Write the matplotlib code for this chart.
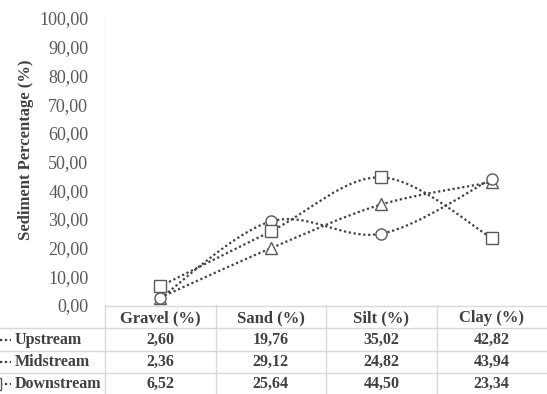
import numpy as np
import matplotlib.pyplot as plt
import matplotlib.transforms as mtransforms
from matplotlib.path import Path
from matplotlib.patches import PathPatch
from matplotlib.lines import Line2D

plt.rcParams['font.family'] = ['Liberation Serif', 'DejaVu Serif']

# Data
categories = ['Gravel (%)', 'Sand (%)', 'Silt (%)', 'Clay (%)']
series_names = ['Upstream', 'Midstream', 'Downstream']
upstream = [2.60, 19.76, 35.02, 42.82]
midstream = [2.36, 29.12, 24.82, 43.94]
downstream = [6.52, 25.64, 44.50, 23.34]
markers = ['^', 'o', 's']
y_ticks = [0, 10, 20, 30, 40, 50, 60, 70, 80, 90, 100]

W, H = 547, 394
GRID = '#d9d9d9'
TXT = '#404040'


def fy(px):
    # pixel row -> figure fraction
    return 1 - px / H


def smooth_path(xs, ys):
    # Excel style smoothed line, cubic bezier through every point
    pts = np.column_stack([xs, ys]).astype(float)
    n = len(pts)
    verts = [pts[0]]
    codes = [Path.MOVETO]
    for i in range(n - 1):
        p0 = pts[max(i - 1, 0)]
        p1 = pts[i]
        p2 = pts[i + 1]
        p3 = pts[min(i + 2, n - 1)]
        verts += [p1 + (p2 - p0) / 6, p2 - (p3 - p1) / 6, p2]
        codes += [Path.CURVE4] * 3
    return Path(verts, codes)


fig = plt.figure(figsize=(W / 100, H / 100), dpi=100)
ax = fig.add_axes([105 / W, fy(305), 442 / W, 287 / H])
ax.set_xlim(-0.5, 3.5)
ax.set_ylim(0, 100)
for s in ax.spines.values():
    s.set_visible(False)
ax.set_xticks([])
ax.set_yticks(y_ticks)
ax.set_yticklabels([f'{v:.2f}'.replace('.', ',') for v in y_ticks])
ax.tick_params(axis='y', length=0, pad=12, labelsize=13, labelcolor='#595959')

x = np.arange(len(categories))
all_series = [upstream, midstream, downstream]
for vals, mk in zip(all_series, markers):
    patch = PathPatch(smooth_path(x, vals), facecolor='none', edgecolor=TXT,
                      linestyle=(0, (1, 1.2)), linewidth=1.6, zorder=3)
    ax.add_patch(patch)
    ax.plot(x, vals, linestyle='none', marker=mk, markersize=8,
            markerfacecolor='white', markeredgecolor='#595959',
            markeredgewidth=1.0, zorder=4)

# grid / table lines
bt = mtransforms.blended_transform_factory(ax.transData, fig.transFigure)
for xb in [-0.5, 0.5, 1.5, 2.5]:
    fig.add_artist(Line2D([xb, xb], [fy(18), 0], transform=bt, color=GRID,
                          linewidth=1.0, zorder=0))
fig.add_artist(Line2D([105 / W, 1], [fy(306), fy(306)], color=GRID, linewidth=1.0))
for ypx in [328, 351, 373]:
    fig.add_artist(Line2D([0, 1], [fy(ypx), fy(ypx)], color=GRID, linewidth=1.0))

# table text
for i, c in enumerate(categories):
    fig.text(i, fy(318), c, transform=bt, ha='center', va='center',
             fontsize=12, fontweight='bold', color=TXT)
row_y = [340, 362, 384]
key_x = [-8, -8, -5]
for name, vals, mk, ry, kx in zip(series_names, all_series, markers, row_y, key_x):
    fig.add_artist(Line2D([0, 11 / W], [fy(ry), fy(ry)], color=TXT,
                          linestyle=(0, (1, 1.2)), linewidth=1.6))
    fig.add_artist(Line2D([kx / W], [fy(ry)], marker=mk, markersize=8,
                          markerfacecolor='white', markeredgecolor='#595959',
                          markeredgewidth=1.0, linestyle='none'))
    fig.text(15 / W, fy(ry), name, ha='left', va='center', fontsize=11.5,
             fontweight='bold', color=TXT)
    for i, v in enumerate(vals):
        fig.text(i, fy(ry), f'{v:.2f}'.replace('.', ','), transform=bt,
                 ha='center', va='center', fontsize=11.5, fontweight='bold', color=TXT)

fig.text(26 / W, fy(150), 'Sediment Percentage (%)', rotation=90, ha='center',
         va='center', fontsize=12, fontweight='bold', color=TXT)

fig.savefig('out.png', dpi=100)
